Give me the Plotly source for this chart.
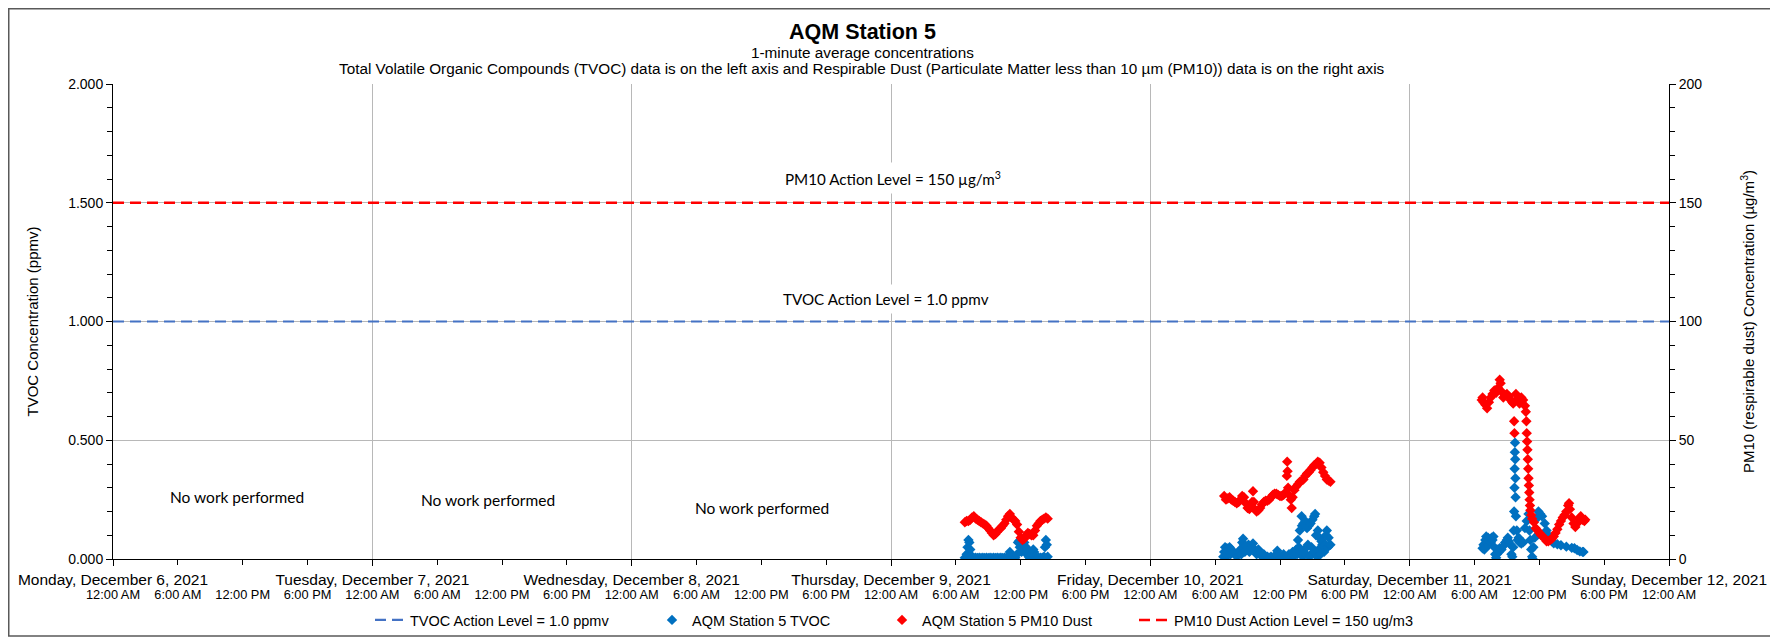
import plotly.graph_objects as go

# ---------------- data ----------------
X_START = "2021-12-06 00:00"
X_END = "2021-12-12 00:00"

DAY_TICKS = ["2021-12-06", "2021-12-07", "2021-12-08", "2021-12-09",
             "2021-12-10", "2021-12-11", "2021-12-12"]
DAY_LABELS = ["Monday, December 6, 2021", "Tuesday, December 7, 2021",
              "Wednesday, December 8, 2021", "Thursday, December 9, 2021",
              "Friday, December 10, 2021", "Saturday, December 11, 2021",
              "Sunday, December 12, 2021"]
TIME_OF_DAY = ["00:00", "06:00", "12:00", "18:00"]
TIME_OF_DAY_LABELS = ["12:00 AM", "6:00 AM", "12:00 PM", "6:00 PM"]

TVOC_ACTION = 1.0
PM10_ACTION = 150

# Thursday, December 9
THU_PM10_T = ["06:50", "07:00", "07:10", "07:20", "07:30", "07:40", "07:50", "08:00", "08:10", "08:20",
              "08:30", "08:40", "08:50", "09:00", "09:10", "09:20", "09:30", "09:40", "09:50", "10:00",
              "10:10", "10:20", "10:30", "10:40", "10:50", "11:00", "11:10", "11:20", "11:30", "11:40",
              "11:50", "12:00", "12:10", "12:20", "12:30", "12:40", "12:50", "13:00", "13:10", "13:20",
              "13:30", "13:40", "13:50", "14:00", "14:10", "14:20", "14:30"]
THU_PM10 = [15.5, 16.0, 16.0, 16.5, 17.5, 18.0, 17.0, 16.5, 16.0, 15.5,
            15.0, 14.5, 14.0, 13.0, 12.0, 11.0, 10.0, 10.5, 11.5, 12.5,
            13.0, 14.0, 15.0, 16.5, 18.0, 19.0, 17.5, 16.5, 16.0, 14.5,
            11.5, 9.0, 8.0, 8.5, 10.0, 11.0, 10.5, 10.0, 10.0, 12.0,
            14.0, 15.0, 16.0, 16.5, 17.0, 17.5, 17.0]

THU_TVOC_T = ["06:50", "07:00", "07:05", "07:10", "07:15", "07:20", "07:25", "07:30", "07:40", "07:50",
              "08:00", "08:10", "08:20", "08:30", "08:40", "08:50", "09:00", "09:10", "09:20", "09:30",
              "09:40", "09:50", "10:00", "10:10", "10:20", "10:30", "10:40", "10:50", "10:55", "11:00",
              "11:05", "11:10", "11:20", "11:30", "11:40", "11:45", "11:50", "11:55", "12:00", "12:05",
              "12:10", "12:15", "12:20", "12:25", "12:30", "12:35", "12:40", "12:45", "12:50", "13:00",
              "13:05", "13:10", "13:15", "13:20", "13:30", "13:40", "13:50", "14:00", "14:10", "14:15",
              "14:20", "14:25", "14:30"]
THU_TVOC = [0.005, 0.02, 0.05, 0.08, 0.07, 0.04, 0.015, 0.005, 0.004, 0.005,
            0.004, 0.005, 0.004, 0.005, 0.004, 0.005, 0.004, 0.005, 0.004, 0.005,
            0.004, 0.005, 0.004, 0.005, 0.004, 0.005, 0.004, 0.006, 0.015, 0.03,
            0.015, 0.005, 0.005, 0.005, 0.02, 0.07, 0.075, 0.05, 0.065, 0.03,
            0.06, 0.045, 0.07, 0.03, 0.05, 0.02, 0.04, 0.01, 0.005, 0.005,
            0.02, 0.04, 0.03, 0.01, 0.005, 0.005, 0.005, 0.005, 0.01, 0.05,
            0.08, 0.06, 0.01]

# Friday, December 10
FRI_PM10_T = ["06:50", "07:00", "07:10", "07:20", "07:30", "07:40", "07:50", "08:00", "08:10", "08:20",
              "08:30", "08:40", "08:50", "09:00", "09:10", "09:20", "09:25", "09:30", "09:35", "09:40",
              "09:50", "10:00", "10:10", "10:20", "10:30", "10:40", "10:50", "11:00", "11:10", "11:20",
              "11:30", "11:40", "11:50", "12:00", "12:10", "12:20", "12:30", "12:38", "12:40", "12:42",
              "12:45", "12:50", "13:00", "13:05", "13:10", "13:20", "13:30", "13:40", "13:50", "14:00",
              "14:10", "14:20", "14:30", "14:40", "14:50", "15:00", "15:10", "15:20", "15:30", "15:40",
              "15:50", "16:00", "16:10", "16:20", "16:30", "16:40"]
FRI_PM10 = [26.5, 25.0, 25.5, 26.0, 25.0, 24.5, 24.0, 23.5, 24.0, 25.0,
            26.5, 26.0, 23.5, 21.5, 21.0, 22.0, 24.0, 28.5, 24.0, 21.0,
            20.0, 20.5, 21.5, 23.0, 24.0, 24.5, 24.5, 25.0, 26.0, 27.0,
            27.5, 27.5, 27.0, 26.5, 26.5, 27.0, 28.0, 35.0, 41.0, 37.0,
            30.0, 27.0, 25.0, 21.5, 26.0, 29.0, 30.5, 31.5, 32.5, 33.0,
            33.5, 35.0, 36.0, 36.5, 37.5, 38.5, 39.5, 40.0, 41.0, 40.5,
            38.5, 36.5, 35.0, 33.5, 33.0, 32.5]

FRI_TVOC_T = ["06:45", "06:50", "06:55", "07:00", "07:05", "07:10", "07:20", "07:25", "07:30", "07:40",
              "07:50", "08:00", "08:10", "08:20", "08:25", "08:30", "08:35", "08:40", "08:45", "08:50",
              "09:00", "09:05", "09:10", "09:20", "09:30", "09:40", "09:50", "10:00", "10:10", "10:20",
              "10:30", "10:40", "10:50", "11:00", "11:10", "11:20", "11:30", "11:40", "11:45", "11:50",
              "12:00", "12:10", "12:20", "12:30", "12:40", "12:50", "13:00", "13:10", "13:20", "13:30",
              "13:35", "13:40", "13:45", "13:50", "13:55", "14:00", "14:02", "14:05", "14:10", "14:15",
              "14:20", "14:25", "14:30", "14:35", "14:40", "14:45", "14:50", "14:55", "15:00", "15:05",
              "15:10", "15:15", "15:20", "15:25", "15:30", "15:35", "15:40", "15:45", "15:50", "15:55",
              "16:00", "16:05", "16:10", "16:15", "16:20", "16:25", "16:30", "16:35", "16:40"]
FRI_TVOC = [0.01, 0.03, 0.05, 0.02, 0.045, 0.015, 0.05, 0.02, 0.04, 0.03,
            0.02, 0.01, 0.03, 0.04, 0.02, 0.07, 0.085, 0.06, 0.03, 0.055,
            0.04, 0.06, 0.03, 0.05, 0.065, 0.04, 0.02, 0.04, 0.025, 0.01,
            0.02, 0.005, 0.01, 0.005, 0.01, 0.005, 0.01, 0.02, 0.035, 0.015,
            0.005, 0.01, 0.02, 0.005, 0.01, 0.02, 0.01, 0.03, 0.015, 0.04,
            0.02, 0.08, 0.05, 0.12, 0.03, 0.18, 0.14, 0.01, 0.15, 0.04,
            0.16, 0.02, 0.13, 0.06, 0.14, 0.01, 0.15, 0.05, 0.165, 0.03,
            0.18, 0.19, 0.10, 0.01, 0.12, 0.04, 0.09, 0.02, 0.075, 0.06,
            0.07, 0.03, 0.06, 0.10, 0.12, 0.05, 0.09, 0.06, 0.06]

# Saturday, December 11
SAT_PM10_T = ["06:40", "06:45", "06:50", "07:00", "07:10", "07:20", "07:30", "07:40", "07:50", "08:00",
              "08:10", "08:20", "08:25", "08:30", "08:40", "08:50", "09:00", "09:10", "09:20", "09:30",
              "09:35", "09:40", "09:42", "09:45", "09:50", "10:00", "10:10", "10:20", "10:30", "10:40",
              "10:45", "10:48", "10:50", "10:52", "10:54", "10:56", "10:58", "11:00", "11:02", "11:04",
              "11:06", "11:08", "11:10", "11:15", "11:20", "11:30", "11:40", "11:50", "12:00", "12:10",
              "12:20", "12:30", "12:40", "12:50", "13:00", "13:10", "13:20", "13:30", "13:40", "13:50",
              "14:00", "14:10", "14:20", "14:30", "14:40", "14:45", "14:50", "15:00", "15:10", "15:20",
              "15:30", "15:40", "15:50", "16:00", "16:10", "16:15"]
SAT_PM10 = [67.0, 68.0, 66.0, 65.0, 63.5, 66.0, 68.0, 69.5, 71.0, 70.0,
            72.0, 75.5, 74.0, 70.5, 68.0, 69.0, 69.5, 68.5, 67.0, 66.0,
            65.5, 58.0, 53.0, 66.5, 69.5, 67.0, 65.5, 68.0, 67.0, 64.5,
            62.0, 58.0, 53.0, 49.5, 46.0, 42.0, 38.0, 34.0, 31.0, 28.0,
            25.0, 22.5, 20.5, 18.5, 17.0, 15.5, 13.0, 12.0, 11.0, 10.0,
            9.5, 8.5, 7.5, 7.5, 8.0, 8.5, 9.5, 11.0, 12.5, 14.5,
            16.0, 17.5, 18.5, 20.0, 22.5, 23.5, 21.0, 17.5, 15.0, 13.5,
            15.0, 17.0, 18.0, 16.5, 16.0, 16.5]

SAT_TVOC_T = ["06:45", "06:50", "06:55", "07:00", "07:05", "07:10", "07:15", "07:20", "07:25", "07:30",
              "07:35", "07:40", "07:45", "07:50", "07:55", "08:00", "08:05", "08:10", "08:15", "08:20",
              "08:30", "08:40", "08:50", "09:00", "09:05", "09:10", "09:20", "09:25", "09:30", "09:35",
              "09:38", "09:40", "09:42", "09:43", "09:44", "09:45", "09:46", "09:47", "09:48", "09:50",
              "09:55", "10:00", "10:05", "10:10", "10:20", "10:30", "10:40", "10:50", "11:00", "11:05",
              "11:10", "11:15", "11:20", "11:23", "11:27", "11:35", "11:45", "11:55", "12:05", "12:15",
              "12:30", "12:40", "12:50", "13:00", "13:10", "13:20", "13:40", "14:00", "14:30", "15:00",
              "15:15", "15:30", "15:45", "16:00", "16:05"]
SAT_TVOC = [0.045, 0.06, 0.04, 0.08, 0.095, 0.07, 0.09, 0.06, 0.075, 0.07,
            0.09, 0.08, 0.095, 0.05, 0.02, 0.005, 0.02, 0.04, 0.03, 0.045,
            0.04, 0.055, 0.07, 0.08, 0.09, 0.075, 0.06, 0.02, 0.01, 0.05,
            0.12, 0.20, 0.30, 0.38, 0.45, 0.49, 0.42, 0.34, 0.26, 0.18,
            0.12, 0.08, 0.09, 0.07, 0.065, 0.07, 0.13, 0.16, 0.19, 0.12,
            0.08, 0.04, 0.01, 0.0, 0.05, 0.09, 0.17, 0.20, 0.19, 0.18,
            0.15, 0.12, 0.10, 0.085, 0.075, 0.066, 0.062, 0.058, 0.052, 0.047,
            0.045, 0.038, 0.032, 0.03, 0.03]

NOTE_TEXT = ["No work performed", "No work performed", "No work performed"]
NOTE_X = ["2021-12-06 11:30", "2021-12-07 10:45", "2021-12-08 12:05"]
NOTE_Y = [0.261, 0.248, 0.215]

# ---------------- build ----------------
def stamp(date, times):
    return [date + " " + t for t in times]

tvoc_x = stamp("2021-12-09", THU_TVOC_T) + stamp("2021-12-10", FRI_TVOC_T) + stamp("2021-12-11", SAT_TVOC_T)
tvoc_y = THU_TVOC + FRI_TVOC + SAT_TVOC
pm_x = stamp("2021-12-09", THU_PM10_T) + stamp("2021-12-10", FRI_PM10_T) + stamp("2021-12-11", SAT_PM10_T)
pm_y = THU_PM10 + FRI_PM10 + SAT_PM10

time_ticks = [d + " " + t for d in DAY_TICKS[:-1] for t in TIME_OF_DAY] + [DAY_TICKS[-1] + " 00:00"]
time_labels = TIME_OF_DAY_LABELS * (len(DAY_TICKS) - 1) + [TIME_OF_DAY_LABELS[0]]

FONT = "Liberation Sans, Arial, sans-serif"
LFONT = "Lato, Carlito, Calibri, sans-serif"
BLUE_LINE = "#4472C4"
BLUE = "#0070C0"
RED = "#FF0000"
GRID = "#B8B8B8"

# page geometry: the figure sits 8px in from the page corner (body margin)
OFF = 8
PAGE_W, PAGE_H = 1778, 639
PLOT_L, PLOT_R, PLOT_T, PLOT_B = 113, 1669, 84, 559   # plot area in page pixels
W, H = PAGE_W - OFF, PAGE_H - OFF
PW, PH = PLOT_R - PLOT_L, PLOT_B - PLOT_T


def px_x(px):
    return (px - PLOT_L) / PW


def px_y(py):
    return (PLOT_B - py) / PH


fig = go.Figure()
fig.add_trace(go.Scatter(x=[X_START, X_END], y=[TVOC_ACTION, TVOC_ACTION], mode="lines",
                         name="TVOC Action Level = 1.0 ppmv", legend="legend",
                         line=dict(color=BLUE_LINE, width=2.2, dash="11px,6px"), hoverinfo="skip"))
fig.add_trace(go.Scatter(x=tvoc_x, y=tvoc_y, mode="markers", name="AQM Station 5 TVOC", legend="legend2",
                         marker=dict(symbol="diamond", size=8, color=BLUE)))
fig.add_trace(go.Scatter(x=pm_x, y=pm_y, mode="markers", name="AQM Station 5 PM10 Dust", yaxis="y2",
                         legend="legend3", marker=dict(symbol="diamond", size=8, color=RED)))
fig.add_trace(go.Scatter(x=[X_START, X_END], y=[PM10_ACTION, PM10_ACTION], mode="lines", yaxis="y2",
                         name="PM10 Dust Action Level = 150 ug/m3", legend="legend4",
                         line=dict(color=RED, width=2.6, dash="11px,6px"), hoverinfo="skip"))
# carrier for the second (time-of-day) label axis
fig.add_trace(go.Scatter(x=[X_START], y=[None], xaxis="x2", mode="markers", showlegend=False,
                         hoverinfo="skip"))

annotations = []
TITLE_CX = 862
annotations.append(dict(text="<b>AQM Station 5</b>", x=px_x(TITLE_CX), y=px_y(32), xref="paper",
                        yref="paper", showarrow=False, xanchor="center", yanchor="middle",
                        font=dict(family=FONT, size=21.5, color="black")))
annotations.append(dict(text="1-minute average concentrations", x=px_x(TITLE_CX), y=px_y(52), xref="paper",
                        yref="paper", showarrow=False, xanchor="center", yanchor="middle",
                        font=dict(family=FONT, size=15.3, color="black")))
annotations.append(dict(text="Total Volatile Organic Compounds (TVOC) data is on the left axis and Respirable Dust "
                             "(Particulate Matter less than 10 µm (PM10)) data is on the right axis",
                        x=px_x(TITLE_CX), y=px_y(68), xref="paper", yref="paper", showarrow=False,
                        xanchor="center", yanchor="middle", font=dict(family=FONT, size=15.3, color="black")))
for t, x, y in zip(NOTE_TEXT, NOTE_X, NOTE_Y):
    annotations.append(dict(text=t, x=x, y=y, xref="x", yref="y", showarrow=False,
                            font=dict(family=LFONT, size=15.5, color="black")))
annotations.append(dict(text="PM10 Action Level = 150 µg/m<sup>3</sup>", x="2021-12-09 00:13", y=1.604,
                        xref="x", yref="y", showarrow=False, bgcolor="white", borderpad=5,
                        font=dict(family=LFONT, size=15.2, color="black")))
annotations.append(dict(text="TVOC Action Level = 1.0 ppmv", x="2021-12-08 23:30", y=1.095,
                        xref="x", yref="y", showarrow=False, bgcolor="white", borderpad=5,
                        font=dict(family=LFONT, size=15.2, color="black")))

# one legend box per entry, placed where each entry sits in the original
LEGEND_TEXT_START = [413, 695, 925, 1177]
legend_font = dict(family=FONT, size=14.5, color="black")
legend_boxes = {}
for i, key in enumerate(["legend", "legend2", "legend3", "legend4"]):
    legend_boxes[key] = dict(orientation="h", x=px_x(LEGEND_TEXT_START[i] - 43), xanchor="left",
                             y=px_y(620), yanchor="middle", font=legend_font,
                             bgcolor="rgba(0,0,0,0)", borderwidth=0)

fig.update_layout(
    template="none",
    width=W, height=H,
    margin=dict(l=PLOT_L - OFF, r=W - (PLOT_R - OFF), t=PLOT_T - OFF, b=H - (PLOT_B - OFF),
                autoexpand=False),
    paper_bgcolor="white", plot_bgcolor="white",
    font=dict(family=FONT, size=14, color="black"),
    showlegend=True,
    **legend_boxes,
    xaxis=dict(type="date", range=[X_START, X_END], tickvals=DAY_TICKS, ticktext=DAY_LABELS,
               tickfont=dict(family=FONT, size=15.5), ticks="outside", ticklen=6, tickcolor="black",
               showgrid=True, gridcolor=GRID, gridwidth=1, showline=True, linecolor="black",
               linewidth=1, zeroline=False, tickangle=0,
               minor=dict(dtick=6 * 3600 * 1000, tick0=X_START, ticks="outside", ticklen=5,
                          tickcolor="black", showgrid=False)),
    xaxis2=dict(type="date", range=[X_START, X_END], overlaying="x", anchor="y", side="bottom",
                tickvals=time_ticks, ticktext=time_labels, tickfont=dict(family=FONT, size=12.8),
                ticks="", showgrid=False, showline=False, zeroline=False, tickangle=0,
                ticklabelstandoff=26),
    yaxis=dict(range=[0, 2], dtick=0.5, tick0=0, tickformat=".3f", ticks="outside", ticklen=6,
               tickcolor="black", showgrid=True, gridcolor=GRID, gridwidth=1, showline=True,
               linecolor="black", linewidth=1, zeroline=False,
               tickfont=dict(family=FONT, size=14),
               title=dict(text="TVOC Concentration (ppmv)", font=dict(family=FONT, size=15), standoff=25),
               minor=dict(dtick=0.1, ticks="outside", ticklen=5, tickcolor="black", showgrid=False)),
    yaxis2=dict(range=[0, 200], dtick=50, tick0=0, overlaying="y", side="right", ticks="outside",
                ticklen=6, tickcolor="black", showgrid=False, showline=True, linecolor="black",
                linewidth=1, zeroline=False, tickfont=dict(family=FONT, size=14),
                title=dict(text="PM10 (respirable dust) Concentration (µg/m<sup>3</sup>)",
                           font=dict(family=FONT, size=15), standoff=42),
                minor=dict(dtick=10, ticks="outside", ticklen=5, tickcolor="black", showgrid=False)),
    annotations=annotations,
    shapes=[dict(type="rect", xref="paper", yref="paper", x0=px_x(OFF + 0.75), x1=px_x(1773),
                 y0=px_y(636), y1=px_y(OFF + 0.75), line=dict(color="#595959", width=1.5),
                 fillcolor="rgba(0,0,0,0)", layer="below")],
)

fig.write_html("out.html")
